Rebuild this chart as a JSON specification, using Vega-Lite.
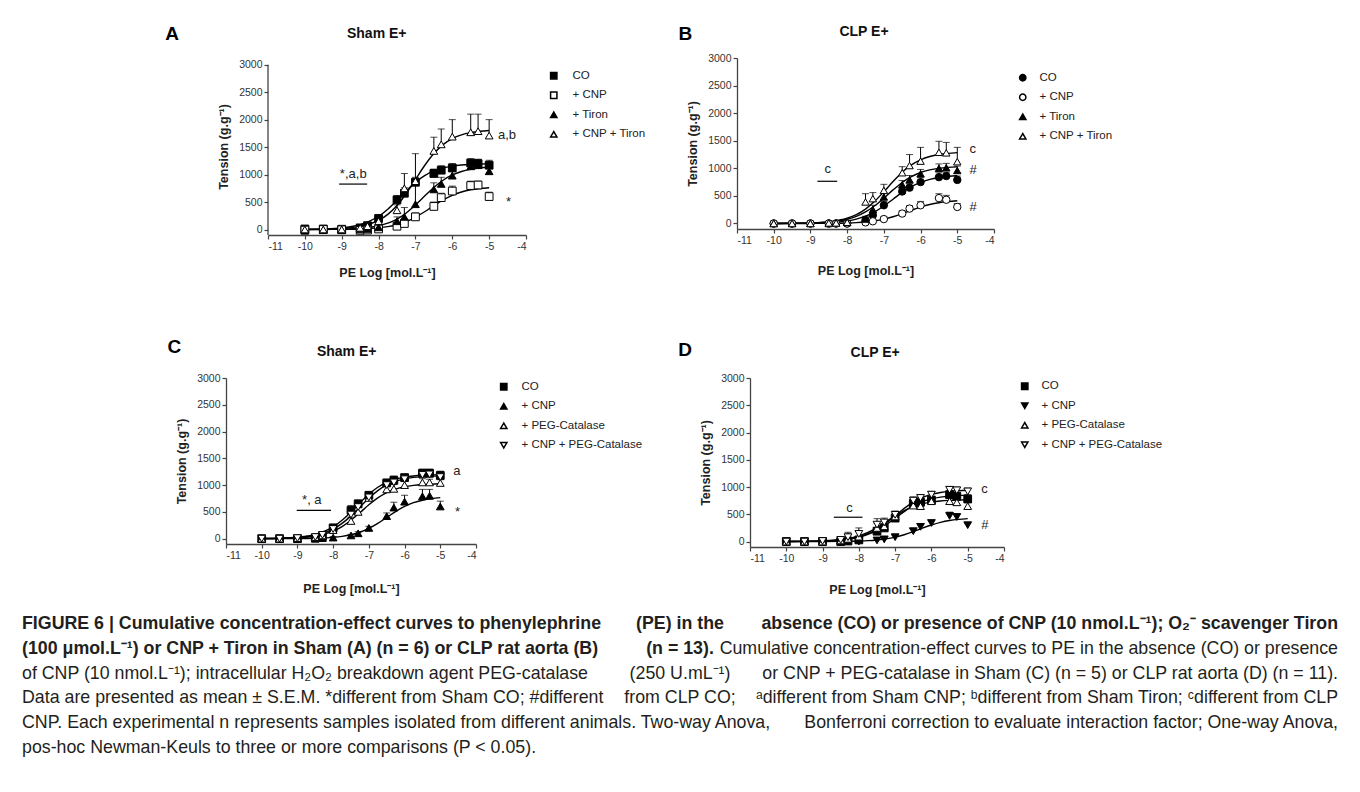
{
"$schema": "https://vega.github.io/schema/vega-lite/v6.json",
"background": "white",
"padding": {"left": 22, "top": 24, "right": 0, "bottom": 0},
"spacing": 19,
"datasets": {
"pts": [
{"p":"A","s":"CO","x":-10,"y":10,"hi":60},{"p":"A","s":"CO","x":-9.5,"y":10,"hi":40},{"p":"A","s":"CO","x":-9,"y":5,"hi":30},{"p":"A","s":"CO","x":-8.5,"y":30,"hi":60},{"p":"A","s":"CO","x":-8.3,"y":70,"hi":110},{"p":"A","s":"CO","x":-8,"y":200,"hi":270},{"p":"A","s":"CO","x":-7.5,"y":540,"hi":620},{"p":"A","s":"CO","x":-7.3,"y":660,"hi":760},{"p":"A","s":"CO","x":-7,"y":860,"hi":950},{"p":"A","s":"CO","x":-6.5,"y":1020,"hi":1100},{"p":"A","s":"CO","x":-6.3,"y":1080,"hi":1160},{"p":"A","s":"CO","x":-6,"y":1120,"hi":1200},{"p":"A","s":"CO","x":-5.5,"y":1210,"hi":1290},{"p":"A","s":"CO","x":-5.3,"y":1200,"hi":1280},{"p":"A","s":"CO","x":-5,"y":1170,"hi":1260},
{"p":"A","s":"+ CNP","x":-10,"y":-10,"hi":20},{"p":"A","s":"+ CNP","x":-9.5,"y":0,"hi":20},{"p":"A","s":"+ CNP","x":-9,"y":-5,"hi":15},{"p":"A","s":"+ CNP","x":-8.5,"y":-15,"hi":10},{"p":"A","s":"+ CNP","x":-8.3,"y":-10,"hi":15},{"p":"A","s":"+ CNP","x":-8,"y":10,"hi":40},{"p":"A","s":"+ CNP","x":-7.5,"y":60,"hi":100},{"p":"A","s":"+ CNP","x":-7.3,"y":110,"hi":160},{"p":"A","s":"+ CNP","x":-7,"y":230,"hi":300},{"p":"A","s":"+ CNP","x":-6.5,"y":420,"hi":500},{"p":"A","s":"+ CNP","x":-6.3,"y":580,"hi":660},{"p":"A","s":"+ CNP","x":-6,"y":700,"hi":790},{"p":"A","s":"+ CNP","x":-5.5,"y":800,"hi":880},{"p":"A","s":"+ CNP","x":-5.3,"y":810,"hi":880},{"p":"A","s":"+ CNP","x":-5,"y":600,"hi":680},
{"p":"A","s":"+ Tiron","x":-10,"y":-20,"hi":10},{"p":"A","s":"+ Tiron","x":-9.5,"y":-10,"hi":15},{"p":"A","s":"+ Tiron","x":-9,"y":-10,"hi":10},{"p":"A","s":"+ Tiron","x":-8.5,"y":0,"hi":30},{"p":"A","s":"+ Tiron","x":-8.3,"y":10,"hi":40},{"p":"A","s":"+ Tiron","x":-8,"y":40,"hi":80},{"p":"A","s":"+ Tiron","x":-7.5,"y":150,"hi":230},{"p":"A","s":"+ Tiron","x":-7.3,"y":230,"hi":400},{"p":"A","s":"+ Tiron","x":-7,"y":460,"hi":800},{"p":"A","s":"+ Tiron","x":-6.5,"y":730,"hi":850},{"p":"A","s":"+ Tiron","x":-6.3,"y":830,"hi":950},{"p":"A","s":"+ Tiron","x":-6,"y":980,"hi":1060},{"p":"A","s":"+ Tiron","x":-5.5,"y":1150,"hi":1230},{"p":"A","s":"+ Tiron","x":-5.3,"y":1170,"hi":1250},{"p":"A","s":"+ Tiron","x":-5,"y":1060,"hi":1150},
{"p":"A","s":"+ CNP + Tiron","x":-10,"y":0,"hi":40},{"p":"A","s":"+ CNP + Tiron","x":-9.5,"y":0,"hi":30},{"p":"A","s":"+ CNP + Tiron","x":-9,"y":0,"hi":30},{"p":"A","s":"+ CNP + Tiron","x":-8.5,"y":30,"hi":70},{"p":"A","s":"+ CNP + Tiron","x":-8.3,"y":60,"hi":100},{"p":"A","s":"+ CNP + Tiron","x":-8,"y":150,"hi":220},{"p":"A","s":"+ CNP + Tiron","x":-7.5,"y":350,"hi":450},{"p":"A","s":"+ CNP + Tiron","x":-7.3,"y":750,"hi":1020},{"p":"A","s":"+ CNP + Tiron","x":-7,"y":880,"hi":1380},{"p":"A","s":"+ CNP + Tiron","x":-6.5,"y":1430,"hi":1680},{"p":"A","s":"+ CNP + Tiron","x":-6.3,"y":1550,"hi":1830},{"p":"A","s":"+ CNP + Tiron","x":-6,"y":1690,"hi":2000},{"p":"A","s":"+ CNP + Tiron","x":-5.5,"y":1770,"hi":2100},{"p":"A","s":"+ CNP + Tiron","x":-5.3,"y":1790,"hi":2100},{"p":"A","s":"+ CNP + Tiron","x":-5,"y":1710,"hi":2000},
{"p":"B","s":"CO","x":-10,"y":0,"hi":30},{"p":"B","s":"CO","x":-9.5,"y":0,"hi":20},{"p":"B","s":"CO","x":-9,"y":0,"hi":20},{"p":"B","s":"CO","x":-8.5,"y":0,"hi":20},{"p":"B","s":"CO","x":-8.3,"y":0,"hi":20},{"p":"B","s":"CO","x":-8,"y":0,"hi":30},{"p":"B","s":"CO","x":-7.5,"y":60,"hi":100},{"p":"B","s":"CO","x":-7.3,"y":150,"hi":200},{"p":"B","s":"CO","x":-7,"y":330,"hi":400},{"p":"B","s":"CO","x":-6.5,"y":580,"hi":650},{"p":"B","s":"CO","x":-6.3,"y":650,"hi":720},{"p":"B","s":"CO","x":-6,"y":750,"hi":830},{"p":"B","s":"CO","x":-5.5,"y":840,"hi":920},{"p":"B","s":"CO","x":-5.3,"y":860,"hi":930},{"p":"B","s":"CO","x":-5,"y":790,"hi":860},
{"p":"B","s":"+ CNP","x":-10,"y":0,"hi":20},{"p":"B","s":"+ CNP","x":-9.5,"y":0,"hi":20},{"p":"B","s":"+ CNP","x":-9,"y":0,"hi":20},{"p":"B","s":"+ CNP","x":-8.5,"y":0,"hi":20},{"p":"B","s":"+ CNP","x":-8.3,"y":0,"hi":20},{"p":"B","s":"+ CNP","x":-8,"y":0,"hi":20},{"p":"B","s":"+ CNP","x":-7.5,"y":20,"hi":50},{"p":"B","s":"+ CNP","x":-7.3,"y":40,"hi":70},{"p":"B","s":"+ CNP","x":-7,"y":80,"hi":120},{"p":"B","s":"+ CNP","x":-6.5,"y":180,"hi":230},{"p":"B","s":"+ CNP","x":-6.3,"y":270,"hi":320},{"p":"B","s":"+ CNP","x":-6,"y":330,"hi":400},{"p":"B","s":"+ CNP","x":-5.5,"y":460,"hi":540},{"p":"B","s":"+ CNP","x":-5.3,"y":430,"hi":510},{"p":"B","s":"+ CNP","x":-5,"y":300,"hi":360},
{"p":"B","s":"+ Tiron","x":-10,"y":0,"hi":20},{"p":"B","s":"+ Tiron","x":-9.5,"y":0,"hi":20},{"p":"B","s":"+ Tiron","x":-9,"y":0,"hi":20},{"p":"B","s":"+ Tiron","x":-8.5,"y":0,"hi":20},{"p":"B","s":"+ Tiron","x":-8.3,"y":10,"hi":30},{"p":"B","s":"+ Tiron","x":-8,"y":20,"hi":40},{"p":"B","s":"+ Tiron","x":-7.5,"y":80,"hi":130},{"p":"B","s":"+ Tiron","x":-7.3,"y":250,"hi":330},{"p":"B","s":"+ Tiron","x":-7,"y":480,"hi":560},{"p":"B","s":"+ Tiron","x":-6.5,"y":700,"hi":780},{"p":"B","s":"+ Tiron","x":-6.3,"y":790,"hi":870},{"p":"B","s":"+ Tiron","x":-6,"y":900,"hi":980},{"p":"B","s":"+ Tiron","x":-5.5,"y":1000,"hi":1080},{"p":"B","s":"+ Tiron","x":-5.3,"y":1010,"hi":1090},{"p":"B","s":"+ Tiron","x":-5,"y":960,"hi":1040},
{"p":"B","s":"+ CNP + Tiron","x":-10,"y":0,"hi":20},{"p":"B","s":"+ CNP + Tiron","x":-9.5,"y":0,"hi":20},{"p":"B","s":"+ CNP + Tiron","x":-9,"y":0,"hi":20},{"p":"B","s":"+ CNP + Tiron","x":-8.5,"y":10,"hi":30},{"p":"B","s":"+ CNP + Tiron","x":-8.3,"y":10,"hi":30},{"p":"B","s":"+ CNP + Tiron","x":-8,"y":20,"hi":50},{"p":"B","s":"+ CNP + Tiron","x":-7.5,"y":390,"hi":540},{"p":"B","s":"+ CNP + Tiron","x":-7.3,"y":450,"hi":560},{"p":"B","s":"+ CNP + Tiron","x":-7,"y":600,"hi":710},{"p":"B","s":"+ CNP + Tiron","x":-6.5,"y":920,"hi":1030},{"p":"B","s":"+ CNP + Tiron","x":-6.3,"y":1050,"hi":1250},{"p":"B","s":"+ CNP + Tiron","x":-6,"y":1130,"hi":1380},{"p":"B","s":"+ CNP + Tiron","x":-5.5,"y":1290,"hi":1490},{"p":"B","s":"+ CNP + Tiron","x":-5.3,"y":1280,"hi":1470},{"p":"B","s":"+ CNP + Tiron","x":-5,"y":1120,"hi":1380},
{"p":"C","s":"CO","x":-10,"y":0,"hi":30},{"p":"C","s":"CO","x":-9.5,"y":0,"hi":30},{"p":"C","s":"CO","x":-9,"y":0,"hi":40},{"p":"C","s":"CO","x":-8.5,"y":10,"hi":50},{"p":"C","s":"CO","x":-8.3,"y":40,"hi":80},{"p":"C","s":"CO","x":-8,"y":200,"hi":270},{"p":"C","s":"CO","x":-7.5,"y":530,"hi":620},{"p":"C","s":"CO","x":-7.3,"y":650,"hi":720},{"p":"C","s":"CO","x":-7,"y":810,"hi":880},{"p":"C","s":"CO","x":-6.5,"y":1040,"hi":1110},{"p":"C","s":"CO","x":-6.3,"y":1090,"hi":1170},{"p":"C","s":"CO","x":-6,"y":1140,"hi":1200},{"p":"C","s":"CO","x":-5.5,"y":1220,"hi":1300},{"p":"C","s":"CO","x":-5.3,"y":1220,"hi":1300},{"p":"C","s":"CO","x":-5,"y":1180,"hi":1260},
{"p":"C","s":"+ CNP","x":-10,"y":0,"hi":10},{"p":"C","s":"+ CNP","x":-9.5,"y":0,"hi":10},{"p":"C","s":"+ CNP","x":-9,"y":0,"hi":10},{"p":"C","s":"+ CNP","x":-8.5,"y":0,"hi":10},{"p":"C","s":"+ CNP","x":-8.3,"y":10,"hi":20},{"p":"C","s":"+ CNP","x":-8,"y":20,"hi":40},{"p":"C","s":"+ CNP","x":-7.5,"y":60,"hi":80},{"p":"C","s":"+ CNP","x":-7.3,"y":100,"hi":130},{"p":"C","s":"+ CNP","x":-7,"y":200,"hi":230},{"p":"C","s":"+ CNP","x":-6.5,"y":420,"hi":480},{"p":"C","s":"+ CNP","x":-6.3,"y":580,"hi":680},{"p":"C","s":"+ CNP","x":-6,"y":690,"hi":810},{"p":"C","s":"+ CNP","x":-5.5,"y":790,"hi":920},{"p":"C","s":"+ CNP","x":-5.3,"y":800,"hi":920},{"p":"C","s":"+ CNP","x":-5,"y":600,"hi":700},
{"p":"C","s":"+ PEG-Catalase","x":-10,"y":0,"hi":20},{"p":"C","s":"+ PEG-Catalase","x":-9.5,"y":0,"hi":20},{"p":"C","s":"+ PEG-Catalase","x":-9,"y":10,"hi":40},{"p":"C","s":"+ PEG-Catalase","x":-8.5,"y":30,"hi":60},{"p":"C","s":"+ PEG-Catalase","x":-8.3,"y":60,"hi":100},{"p":"C","s":"+ PEG-Catalase","x":-8,"y":160,"hi":220},{"p":"C","s":"+ PEG-Catalase","x":-7.5,"y":330,"hi":400},{"p":"C","s":"+ PEG-Catalase","x":-7.3,"y":500,"hi":580},{"p":"C","s":"+ PEG-Catalase","x":-7,"y":760,"hi":830},{"p":"C","s":"+ PEG-Catalase","x":-6.5,"y":920,"hi":1000},{"p":"C","s":"+ PEG-Catalase","x":-6.3,"y":930,"hi":1010},{"p":"C","s":"+ PEG-Catalase","x":-6,"y":1000,"hi":1080},{"p":"C","s":"+ PEG-Catalase","x":-5.5,"y":1050,"hi":1120},{"p":"C","s":"+ PEG-Catalase","x":-5.3,"y":1050,"hi":1110},{"p":"C","s":"+ PEG-Catalase","x":-5,"y":1040,"hi":1100},
{"p":"C","s":"+ CNP + PEG-Catalase","x":-10,"y":0,"hi":20},{"p":"C","s":"+ CNP + PEG-Catalase","x":-9.5,"y":0,"hi":20},{"p":"C","s":"+ CNP + PEG-Catalase","x":-9,"y":10,"hi":60},{"p":"C","s":"+ CNP + PEG-Catalase","x":-8.5,"y":30,"hi":70},{"p":"C","s":"+ CNP + PEG-Catalase","x":-8.3,"y":70,"hi":110},{"p":"C","s":"+ CNP + PEG-Catalase","x":-8,"y":180,"hi":250},{"p":"C","s":"+ CNP + PEG-Catalase","x":-7.5,"y":450,"hi":520},{"p":"C","s":"+ CNP + PEG-Catalase","x":-7.3,"y":590,"hi":660},{"p":"C","s":"+ CNP + PEG-Catalase","x":-7,"y":770,"hi":850},{"p":"C","s":"+ CNP + PEG-Catalase","x":-6.5,"y":1000,"hi":1080},{"p":"C","s":"+ CNP + PEG-Catalase","x":-6.3,"y":1050,"hi":1130},{"p":"C","s":"+ CNP + PEG-Catalase","x":-6,"y":1110,"hi":1180},{"p":"C","s":"+ CNP + PEG-Catalase","x":-5.5,"y":1190,"hi":1270},{"p":"C","s":"+ CNP + PEG-Catalase","x":-5.3,"y":1200,"hi":1280},{"p":"C","s":"+ CNP + PEG-Catalase","x":-5,"y":1150,"hi":1230},
{"p":"D","s":"CO","x":-10,"y":0,"hi":30},{"p":"D","s":"CO","x":-9.5,"y":0,"hi":20},{"p":"D","s":"CO","x":-9,"y":0,"hi":20},{"p":"D","s":"CO","x":-8.5,"y":0,"hi":30},{"p":"D","s":"CO","x":-8.3,"y":10,"hi":40},{"p":"D","s":"CO","x":-8,"y":30,"hi":70},{"p":"D","s":"CO","x":-7.5,"y":190,"hi":260},{"p":"D","s":"CO","x":-7.3,"y":250,"hi":330},{"p":"D","s":"CO","x":-7,"y":430,"hi":500},{"p":"D","s":"CO","x":-6.5,"y":700,"hi":780},{"p":"D","s":"CO","x":-6.3,"y":720,"hi":800},{"p":"D","s":"CO","x":-6,"y":760,"hi":830},{"p":"D","s":"CO","x":-5.5,"y":860,"hi":940},{"p":"D","s":"CO","x":-5.3,"y":830,"hi":900},{"p":"D","s":"CO","x":-5,"y":780,"hi":860},
{"p":"D","s":"+ CNP","x":-10,"y":0,"hi":15},{"p":"D","s":"+ CNP","x":-9.5,"y":0,"hi":15},{"p":"D","s":"+ CNP","x":-9,"y":0,"hi":15},{"p":"D","s":"+ CNP","x":-8.5,"y":0,"hi":15},{"p":"D","s":"+ CNP","x":-8.3,"y":0,"hi":15},{"p":"D","s":"+ CNP","x":-8,"y":0,"hi":15},{"p":"D","s":"+ CNP","x":-7.5,"y":20,"hi":40},{"p":"D","s":"+ CNP","x":-7.3,"y":40,"hi":60},{"p":"D","s":"+ CNP","x":-7,"y":80,"hi":110},{"p":"D","s":"+ CNP","x":-6.5,"y":190,"hi":230},{"p":"D","s":"+ CNP","x":-6.3,"y":270,"hi":320},{"p":"D","s":"+ CNP","x":-6,"y":340,"hi":390},{"p":"D","s":"+ CNP","x":-5.5,"y":470,"hi":540},{"p":"D","s":"+ CNP","x":-5.3,"y":450,"hi":510},{"p":"D","s":"+ CNP","x":-5,"y":300,"hi":340},
{"p":"D","s":"+ PEG-Catalase","x":-10,"y":0,"hi":30},{"p":"D","s":"+ PEG-Catalase","x":-9.5,"y":0,"hi":20},{"p":"D","s":"+ PEG-Catalase","x":-9,"y":0,"hi":20},{"p":"D","s":"+ PEG-Catalase","x":-8.5,"y":20,"hi":60},{"p":"D","s":"+ PEG-Catalase","x":-8.3,"y":50,"hi":140},{"p":"D","s":"+ PEG-Catalase","x":-8,"y":90,"hi":200},{"p":"D","s":"+ PEG-Catalase","x":-7.5,"y":250,"hi":330},{"p":"D","s":"+ PEG-Catalase","x":-7.3,"y":280,"hi":380},{"p":"D","s":"+ PEG-Catalase","x":-7,"y":460,"hi":520},{"p":"D","s":"+ PEG-Catalase","x":-6.5,"y":660,"hi":740},{"p":"D","s":"+ PEG-Catalase","x":-6.3,"y":650,"hi":720},{"p":"D","s":"+ PEG-Catalase","x":-6,"y":740,"hi":800},{"p":"D","s":"+ PEG-Catalase","x":-5.5,"y":740,"hi":820},{"p":"D","s":"+ PEG-Catalase","x":-5.3,"y":720,"hi":790},{"p":"D","s":"+ PEG-Catalase","x":-5,"y":650,"hi":720},
{"p":"D","s":"+ CNP + PEG-Catalase","x":-10,"y":0,"hi":30},{"p":"D","s":"+ CNP + PEG-Catalase","x":-9.5,"y":0,"hi":20},{"p":"D","s":"+ CNP + PEG-Catalase","x":-9,"y":10,"hi":30},{"p":"D","s":"+ CNP + PEG-Catalase","x":-8.5,"y":30,"hi":80},{"p":"D","s":"+ CNP + PEG-Catalase","x":-8.3,"y":80,"hi":170},{"p":"D","s":"+ CNP + PEG-Catalase","x":-8,"y":140,"hi":250},{"p":"D","s":"+ CNP + PEG-Catalase","x":-7.5,"y":310,"hi":420},{"p":"D","s":"+ CNP + PEG-Catalase","x":-7.3,"y":350,"hi":430},{"p":"D","s":"+ CNP + PEG-Catalase","x":-7,"y":490,"hi":560},{"p":"D","s":"+ CNP + PEG-Catalase","x":-6.5,"y":750,"hi":820},{"p":"D","s":"+ CNP + PEG-Catalase","x":-6.3,"y":800,"hi":860},{"p":"D","s":"+ CNP + PEG-Catalase","x":-6,"y":860,"hi":920},{"p":"D","s":"+ CNP + PEG-Catalase","x":-5.5,"y":950,"hi":1010},{"p":"D","s":"+ CNP + PEG-Catalase","x":-5.3,"y":940,"hi":1000},{"p":"D","s":"+ CNP + PEG-Catalase","x":-5,"y":920,"hi":980}
],
"crv": [
{"p":"A","s":"CO","x":-10,"y":3},{"p":"A","s":"CO","x":-9.5,"y":9},{"p":"A","s":"CO","x":-9,"y":29},{"p":"A","s":"CO","x":-8.5,"y":88},{"p":"A","s":"CO","x":-8,"y":241},{"p":"A","s":"CO","x":-7.75,"y":370},{"p":"A","s":"CO","x":-7.5,"y":531},{"p":"A","s":"CO","x":-7.25,"y":703},{"p":"A","s":"CO","x":-7,"y":858},{"p":"A","s":"CO","x":-6.75,"y":980},{"p":"A","s":"CO","x":-6.5,"y":1066},{"p":"A","s":"CO","x":-6.25,"y":1121},{"p":"A","s":"CO","x":-6,"y":1154},{"p":"A","s":"CO","x":-5.75,"y":1174},{"p":"A","s":"CO","x":-5.5,"y":1185},{"p":"A","s":"CO","x":-5.25,"y":1192},{"p":"A","s":"CO","x":-5,"y":1195},
{"p":"A","s":"+ CNP","x":-10,"y":0},{"p":"A","s":"+ CNP","x":-9.5,"y":1},{"p":"A","s":"+ CNP","x":-9,"y":3},{"p":"A","s":"+ CNP","x":-8.5,"y":10},{"p":"A","s":"+ CNP","x":-8,"y":30},{"p":"A","s":"+ CNP","x":-7.75,"y":52},{"p":"A","s":"+ CNP","x":-7.5,"y":87},{"p":"A","s":"+ CNP","x":-7.25,"y":143},{"p":"A","s":"+ CNP","x":-7,"y":222},{"p":"A","s":"+ CNP","x":-6.75,"y":323},{"p":"A","s":"+ CNP","x":-6.5,"y":435},{"p":"A","s":"+ CNP","x":-6.25,"y":539},{"p":"A","s":"+ CNP","x":-6,"y":623},{"p":"A","s":"+ CNP","x":-5.75,"y":683},{"p":"A","s":"+ CNP","x":-5.5,"y":723},{"p":"A","s":"+ CNP","x":-5.25,"y":747},{"p":"A","s":"+ CNP","x":-5,"y":761},
{"p":"A","s":"+ Tiron","x":-10,"y":1},{"p":"A","s":"+ Tiron","x":-9.5,"y":2},{"p":"A","s":"+ Tiron","x":-9,"y":7},{"p":"A","s":"+ Tiron","x":-8.5,"y":23},{"p":"A","s":"+ Tiron","x":-8,"y":68},{"p":"A","s":"+ Tiron","x":-7.75,"y":116},{"p":"A","s":"+ Tiron","x":-7.5,"y":191},{"p":"A","s":"+ Tiron","x":-7.25,"y":301},{"p":"A","s":"+ Tiron","x":-7,"y":445},{"p":"A","s":"+ Tiron","x":-6.75,"y":608},{"p":"A","s":"+ Tiron","x":-6.5,"y":766},{"p":"A","s":"+ Tiron","x":-6.25,"y":897},{"p":"A","s":"+ Tiron","x":-6,"y":993},{"p":"A","s":"+ Tiron","x":-5.75,"y":1056},{"p":"A","s":"+ Tiron","x":-5.5,"y":1095},{"p":"A","s":"+ Tiron","x":-5.25,"y":1119},{"p":"A","s":"+ Tiron","x":-5,"y":1132},
{"p":"A","s":"+ CNP + Tiron","x":-10,"y":2},{"p":"A","s":"+ CNP + Tiron","x":-9.5,"y":6},{"p":"A","s":"+ CNP + Tiron","x":-9,"y":18},{"p":"A","s":"+ CNP + Tiron","x":-8.5,"y":56},{"p":"A","s":"+ CNP + Tiron","x":-8,"y":165},{"p":"A","s":"+ CNP + Tiron","x":-7.75,"y":275},{"p":"A","s":"+ CNP + Tiron","x":-7.5,"y":437},{"p":"A","s":"+ CNP + Tiron","x":-7.25,"y":655},{"p":"A","s":"+ CNP + Tiron","x":-7,"y":910},{"p":"A","s":"+ CNP + Tiron","x":-6.75,"y":1165},{"p":"A","s":"+ CNP + Tiron","x":-6.5,"y":1383},{"p":"A","s":"+ CNP + Tiron","x":-6.25,"y":1545},{"p":"A","s":"+ CNP + Tiron","x":-6,"y":1655},{"p":"A","s":"+ CNP + Tiron","x":-5.75,"y":1723},{"p":"A","s":"+ CNP + Tiron","x":-5.5,"y":1764},{"p":"A","s":"+ CNP + Tiron","x":-5.25,"y":1788},{"p":"A","s":"+ CNP + Tiron","x":-5,"y":1802},
{"p":"B","s":"CO","x":-10,"y":0},{"p":"B","s":"CO","x":-9.5,"y":2},{"p":"B","s":"CO","x":-9,"y":5},{"p":"B","s":"CO","x":-8.5,"y":15},{"p":"B","s":"CO","x":-8,"y":47},{"p":"B","s":"CO","x":-7.75,"y":80},{"p":"B","s":"CO","x":-7.5,"y":133},{"p":"B","s":"CO","x":-7.25,"y":211},{"p":"B","s":"CO","x":-7,"y":317},{"p":"B","s":"CO","x":-6.75,"y":440},{"p":"B","s":"CO","x":-6.5,"y":563},{"p":"B","s":"CO","x":-6.25,"y":669},{"p":"B","s":"CO","x":-6,"y":747},{"p":"B","s":"CO","x":-5.75,"y":800},{"p":"B","s":"CO","x":-5.5,"y":833},{"p":"B","s":"CO","x":-5.25,"y":853},{"p":"B","s":"CO","x":-5,"y":865},
{"p":"B","s":"+ CNP","x":-10,"y":0},{"p":"B","s":"+ CNP","x":-9.5,"y":0},{"p":"B","s":"+ CNP","x":-9,"y":1},{"p":"B","s":"+ CNP","x":-8.5,"y":3},{"p":"B","s":"+ CNP","x":-8,"y":9},{"p":"B","s":"+ CNP","x":-7.75,"y":16},{"p":"B","s":"+ CNP","x":-7.5,"y":28},{"p":"B","s":"+ CNP","x":-7.25,"y":48},{"p":"B","s":"+ CNP","x":-7,"y":79},{"p":"B","s":"+ CNP","x":-6.75,"y":122},{"p":"B","s":"+ CNP","x":-6.5,"y":178},{"p":"B","s":"+ CNP","x":-6.25,"y":240},{"p":"B","s":"+ CNP","x":-6,"y":297},{"p":"B","s":"+ CNP","x":-5.75,"y":344},{"p":"B","s":"+ CNP","x":-5.5,"y":377},{"p":"B","s":"+ CNP","x":-5.25,"y":398},{"p":"B","s":"+ CNP","x":-5,"y":411},
{"p":"B","s":"+ Tiron","x":-10,"y":0},{"p":"B","s":"+ Tiron","x":-9.5,"y":3},{"p":"B","s":"+ Tiron","x":-9,"y":8},{"p":"B","s":"+ Tiron","x":-8.5,"y":25},{"p":"B","s":"+ Tiron","x":-8,"y":77},{"p":"B","s":"+ Tiron","x":-7.75,"y":129},{"p":"B","s":"+ Tiron","x":-7.5,"y":209},{"p":"B","s":"+ Tiron","x":-7.25,"y":321},{"p":"B","s":"+ Tiron","x":-7,"y":460},{"p":"B","s":"+ Tiron","x":-6.75,"y":609},{"p":"B","s":"+ Tiron","x":-6.5,"y":744},{"p":"B","s":"+ Tiron","x":-6.25,"y":850},{"p":"B","s":"+ Tiron","x":-6,"y":924},{"p":"B","s":"+ Tiron","x":-5.75,"y":971},{"p":"B","s":"+ Tiron","x":-5.5,"y":1000},{"p":"B","s":"+ Tiron","x":-5.25,"y":1017},{"p":"B","s":"+ Tiron","x":-5,"y":1027},
{"p":"B","s":"+ CNP + Tiron","x":-10,"y":0},{"p":"B","s":"+ CNP + Tiron","x":-9.5,"y":3},{"p":"B","s":"+ CNP + Tiron","x":-9,"y":10},{"p":"B","s":"+ CNP + Tiron","x":-8.5,"y":32},{"p":"B","s":"+ CNP + Tiron","x":-8,"y":96},{"p":"B","s":"+ CNP + Tiron","x":-7.75,"y":161},{"p":"B","s":"+ CNP + Tiron","x":-7.5,"y":261},{"p":"B","s":"+ CNP + Tiron","x":-7.25,"y":402},{"p":"B","s":"+ CNP + Tiron","x":-7,"y":576},{"p":"B","s":"+ CNP + Tiron","x":-6.75,"y":761},{"p":"B","s":"+ CNP + Tiron","x":-6.5,"y":930},{"p":"B","s":"+ CNP + Tiron","x":-6.25,"y":1062},{"p":"B","s":"+ CNP + Tiron","x":-6,"y":1154},{"p":"B","s":"+ CNP + Tiron","x":-5.75,"y":1214},{"p":"B","s":"+ CNP + Tiron","x":-5.5,"y":1250},{"p":"B","s":"+ CNP + Tiron","x":-5.25,"y":1271},{"p":"B","s":"+ CNP + Tiron","x":-5,"y":1284},
{"p":"C","s":"CO","x":-10,"y":3},{"p":"C","s":"CO","x":-9.5,"y":8},{"p":"C","s":"CO","x":-9,"y":26},{"p":"C","s":"CO","x":-8.5,"y":79},{"p":"C","s":"CO","x":-8,"y":219},{"p":"C","s":"CO","x":-7.75,"y":342},{"p":"C","s":"CO","x":-7.5,"y":497},{"p":"C","s":"CO","x":-7.25,"y":669},{"p":"C","s":"CO","x":-7,"y":829},{"p":"C","s":"CO","x":-6.75,"y":959},{"p":"C","s":"CO","x":-6.5,"y":1051},{"p":"C","s":"CO","x":-6.25,"y":1112},{"p":"C","s":"CO","x":-6,"y":1149},{"p":"C","s":"CO","x":-5.75,"y":1171},{"p":"C","s":"CO","x":-5.5,"y":1183},{"p":"C","s":"CO","x":-5.25,"y":1190},{"p":"C","s":"CO","x":-5,"y":1195},
{"p":"C","s":"+ CNP","x":-10,"y":0},{"p":"C","s":"+ CNP","x":-9.5,"y":1},{"p":"C","s":"+ CNP","x":-9,"y":2},{"p":"C","s":"+ CNP","x":-8.5,"y":8},{"p":"C","s":"+ CNP","x":-8,"y":24},{"p":"C","s":"+ CNP","x":-7.75,"y":42},{"p":"C","s":"+ CNP","x":-7.5,"y":72},{"p":"C","s":"+ CNP","x":-7.25,"y":119},{"p":"C","s":"+ CNP","x":-7,"y":190},{"p":"C","s":"+ CNP","x":-6.75,"y":284},{"p":"C","s":"+ CNP","x":-6.5,"y":395},{"p":"C","s":"+ CNP","x":-6.25,"y":506},{"p":"C","s":"+ CNP","x":-6,"y":601},{"p":"C","s":"+ CNP","x":-5.75,"y":671},{"p":"C","s":"+ CNP","x":-5.5,"y":718},{"p":"C","s":"+ CNP","x":-5.25,"y":748},{"p":"C","s":"+ CNP","x":-5,"y":766},
{"p":"C","s":"+ PEG-Catalase","x":-10,"y":2},{"p":"C","s":"+ PEG-Catalase","x":-9.5,"y":5},{"p":"C","s":"+ PEG-Catalase","x":-9,"y":16},{"p":"C","s":"+ PEG-Catalase","x":-8.5,"y":49},{"p":"C","s":"+ PEG-Catalase","x":-8,"y":141},{"p":"C","s":"+ PEG-Catalase","x":-7.75,"y":226},{"p":"C","s":"+ PEG-Catalase","x":-7.5,"y":344},{"p":"C","s":"+ PEG-Catalase","x":-7.25,"y":485},{"p":"C","s":"+ PEG-Catalase","x":-7,"y":632},{"p":"C","s":"+ PEG-Catalase","x":-6.75,"y":760},{"p":"C","s":"+ PEG-Catalase","x":-6.5,"y":858},{"p":"C","s":"+ PEG-Catalase","x":-6.25,"y":926},{"p":"C","s":"+ PEG-Catalase","x":-6,"y":969},{"p":"C","s":"+ PEG-Catalase","x":-5.75,"y":995},{"p":"C","s":"+ PEG-Catalase","x":-5.5,"y":1010},{"p":"C","s":"+ PEG-Catalase","x":-5.25,"y":1019},{"p":"C","s":"+ PEG-Catalase","x":-5,"y":1024},
{"p":"C","s":"+ CNP + PEG-Catalase","x":-10,"y":2},{"p":"C","s":"+ CNP + PEG-Catalase","x":-9.5,"y":7},{"p":"C","s":"+ CNP + PEG-Catalase","x":-9,"y":21},{"p":"C","s":"+ CNP + PEG-Catalase","x":-8.5,"y":63},{"p":"C","s":"+ CNP + PEG-Catalase","x":-8,"y":178},{"p":"C","s":"+ CNP + PEG-Catalase","x":-7.75,"y":284},{"p":"C","s":"+ CNP + PEG-Catalase","x":-7.5,"y":425},{"p":"C","s":"+ CNP + PEG-Catalase","x":-7.25,"y":590},{"p":"C","s":"+ CNP + PEG-Catalase","x":-7,"y":755},{"p":"C","s":"+ CNP + PEG-Catalase","x":-6.75,"y":897},{"p":"C","s":"+ CNP + PEG-Catalase","x":-6.5,"y":1002},{"p":"C","s":"+ CNP + PEG-Catalase","x":-6.25,"y":1073},{"p":"C","s":"+ CNP + PEG-Catalase","x":-6,"y":1117},{"p":"C","s":"+ CNP + PEG-Catalase","x":-5.75,"y":1144},{"p":"C","s":"+ CNP + PEG-Catalase","x":-5.5,"y":1159},{"p":"C","s":"+ CNP + PEG-Catalase","x":-5.25,"y":1168},{"p":"C","s":"+ CNP + PEG-Catalase","x":-5,"y":1173},
{"p":"D","s":"CO","x":-10,"y":1},{"p":"D","s":"CO","x":-9.5,"y":3},{"p":"D","s":"CO","x":-9,"y":9},{"p":"D","s":"CO","x":-8.5,"y":26},{"p":"D","s":"CO","x":-8,"y":78},{"p":"D","s":"CO","x":-7.75,"y":130},{"p":"D","s":"CO","x":-7.5,"y":207},{"p":"D","s":"CO","x":-7.25,"y":310},{"p":"D","s":"CO","x":-7,"y":430},{"p":"D","s":"CO","x":-6.75,"y":550},{"p":"D","s":"CO","x":-6.5,"y":654},{"p":"D","s":"CO","x":-6.25,"y":730},{"p":"D","s":"CO","x":-6,"y":782},{"p":"D","s":"CO","x":-5.75,"y":814},{"p":"D","s":"CO","x":-5.5,"y":834},{"p":"D","s":"CO","x":-5.25,"y":845},{"p":"D","s":"CO","x":-5,"y":851},
{"p":"D","s":"+ CNP","x":-10,"y":0},{"p":"D","s":"+ CNP","x":-9.5,"y":0},{"p":"D","s":"+ CNP","x":-9,"y":1},{"p":"D","s":"+ CNP","x":-8.5,"y":3},{"p":"D","s":"+ CNP","x":-8,"y":9},{"p":"D","s":"+ CNP","x":-7.75,"y":16},{"p":"D","s":"+ CNP","x":-7.5,"y":29},{"p":"D","s":"+ CNP","x":-7.25,"y":49},{"p":"D","s":"+ CNP","x":-7,"y":81},{"p":"D","s":"+ CNP","x":-6.75,"y":125},{"p":"D","s":"+ CNP","x":-6.5,"y":182},{"p":"D","s":"+ CNP","x":-6.25,"y":246},{"p":"D","s":"+ CNP","x":-6,"y":304},{"p":"D","s":"+ CNP","x":-5.75,"y":352},{"p":"D","s":"+ CNP","x":-5.5,"y":386},{"p":"D","s":"+ CNP","x":-5.25,"y":407},{"p":"D","s":"+ CNP","x":-5,"y":421},
{"p":"D","s":"+ PEG-Catalase","x":-10,"y":1},{"p":"D","s":"+ PEG-Catalase","x":-9.5,"y":4},{"p":"D","s":"+ PEG-Catalase","x":-9,"y":12},{"p":"D","s":"+ PEG-Catalase","x":-8.5,"y":37},{"p":"D","s":"+ PEG-Catalase","x":-8,"y":105},{"p":"D","s":"+ PEG-Catalase","x":-7.75,"y":169},{"p":"D","s":"+ PEG-Catalase","x":-7.5,"y":257},{"p":"D","s":"+ PEG-Catalase","x":-7.25,"y":363},{"p":"D","s":"+ PEG-Catalase","x":-7,"y":472},{"p":"D","s":"+ PEG-Catalase","x":-6.75,"y":568},{"p":"D","s":"+ PEG-Catalase","x":-6.5,"y":642},{"p":"D","s":"+ PEG-Catalase","x":-6.25,"y":692},{"p":"D","s":"+ PEG-Catalase","x":-6,"y":724},{"p":"D","s":"+ PEG-Catalase","x":-5.75,"y":744},{"p":"D","s":"+ PEG-Catalase","x":-5.5,"y":755},{"p":"D","s":"+ PEG-Catalase","x":-5.25,"y":762},{"p":"D","s":"+ PEG-Catalase","x":-5,"y":765},
{"p":"D","s":"+ CNP + PEG-Catalase","x":-10,"y":1},{"p":"D","s":"+ CNP + PEG-Catalase","x":-9.5,"y":3},{"p":"D","s":"+ CNP + PEG-Catalase","x":-9,"y":9},{"p":"D","s":"+ CNP + PEG-Catalase","x":-8.5,"y":29},{"p":"D","s":"+ CNP + PEG-Catalase","x":-8,"y":86},{"p":"D","s":"+ CNP + PEG-Catalase","x":-7.75,"y":143},{"p":"D","s":"+ CNP + PEG-Catalase","x":-7.5,"y":228},{"p":"D","s":"+ CNP + PEG-Catalase","x":-7.25,"y":342},{"p":"D","s":"+ CNP + PEG-Catalase","x":-7,"y":475},{"p":"D","s":"+ CNP + PEG-Catalase","x":-6.75,"y":608},{"p":"D","s":"+ CNP + PEG-Catalase","x":-6.5,"y":722},{"p":"D","s":"+ CNP + PEG-Catalase","x":-6.25,"y":807},{"p":"D","s":"+ CNP + PEG-Catalase","x":-6,"y":864},{"p":"D","s":"+ CNP + PEG-Catalase","x":-5.75,"y":900},{"p":"D","s":"+ CNP + PEG-Catalase","x":-5.5,"y":921},{"p":"D","s":"+ CNP + PEG-Catalase","x":-5.25,"y":933},{"p":"D","s":"+ CNP + PEG-Catalase","x":-5,"y":941}
],
"notes": [
{"p":"A","x":-4.76,"y":1725,"t":"a,b"},{"p":"A","x":-4.54,"y":500,"t":"*"},{"p":"A","x":-9.05,"y":1015,"t":"*,a,b"},
{"p":"B","x":-4.67,"y":1343,"t":"c"},{"p":"B","x":-4.67,"y":963,"t":"#"},{"p":"B","x":-4.67,"y":295,"t":"#"},{"p":"B","x":-8.62,"y":982,"t":"c"},
{"p":"C","x":-4.64,"y":1254,"t":"a"},{"p":"C","x":-4.59,"y":500,"t":"*"},{"p":"C","x":-8.87,"y":714,"t":"*, a"},
{"p":"D","x":-4.63,"y":959,"t":"c"},{"p":"D","x":-4.63,"y":299,"t":"#"},{"p":"D","x":-8.35,"y":610,"t":"c"}
],
"bars": [
{"p":"A","x":-9.07,"x2":-8.31,"y":827},{"p":"B","x":-8.81,"x2":-8.27,"y":765},{"p":"C","x":-9.02,"x2":-8.06,"y":527},{"p":"D","x":-8.69,"x2":-7.9,"y":446}
],
"cap": [
{"line":1,"side":"L","part":"head","t":"FIGURE 6 | Cumulative concentration-effect curves to phenylephrine"},
{"line":1,"side":"M","part":"head","t":"(PE) in the"},
{"line":1,"side":"R","part":"head","t":"absence (CO) or presence of CNP (10 nmol.L⁻¹); O₂⁻ scavenger Tiron"},
{"line":2,"side":"L","part":"head","t":"(100 μmol.L⁻¹) or CNP + Tiron in Sham (A) (n = 6) or CLP rat aorta (B)"},
{"line":2,"side":"M","part":"head","t":"(n = 13)."},
{"line":2,"side":"R","part":"body","t":"Cumulative concentration-effect curves to PE in the absence (CO) or presence"},
{"line":3,"side":"L","part":"body","t":"of CNP (10 nmol.L⁻¹); intracellular H₂O₂ breakdown agent PEG-catalase"},
{"line":3,"side":"M","part":"body","t":"(250 U.mL⁻¹)"},
{"line":3,"side":"R","part":"body","t":"or CNP + PEG-catalase in Sham (C) (n = 5) or CLP rat aorta (D) (n = 11)."},
{"line":4,"side":"L","part":"body","t":"Data are presented as mean ± S.E.M. *different from Sham CO; #different"},
{"line":4,"side":"M","part":"body","t":"from CLP CO;"},
{"line":4,"side":"R","part":"body","t":"ᵃdifferent from Sham CNP; ᵇdifferent from Sham Tiron; ᶜdifferent from CLP"},
{"line":5,"side":"L","part":"body","t":"CNP. Each experimental n represents samples isolated from different animals. Two-way Anova,"},
{"line":5,"side":"R","part":"body","t":"Bonferroni correction to evaluate interaction factor; One-way Anova,"},
{"line":6,"side":"L","part":"body","t":"pos-hoc Newman-Keuls to three or more comparisons (P < 0.05)."}
]
},
"vconcat": [
{
"hconcat": [
{"width":111,"height":261,"data":{"values":[{}]},"mark":{"type":"point","opacity":0}},
{
"width":258,"height":177,
"layer":[
{"data":{"name":"crv"},"transform":[{"filter":"datum.p==='A'"}],"mark":{"type":"line","color":"black","strokeWidth":1.4,"interpolate":"monotone"},"encoding":{"x":{"field":"x","type":"quantitative","scale":{"domain":[-11,-4],"nice":false,"zero":false},"axis":{"tickCount":7,"labelOverlap":false,"labelExpr":"''+datum.value","title":"PE Log [mol.L⁻¹]","titleX":119,"titlePadding":15}},"y":{"field":"y","type":"quantitative","scale":{"domain":[-100,3122],"nice":false,"zero":false},"axis":{"tickCount":6,"labelOverlap":false,"format":"d","domain":false,"title":"Tension (g.g⁻¹)"}},"detail":{"field":"s"}}},
{"data":{"values":[{}]},"mark":{"type":"rule","color":"#444","strokeWidth":1.3},"encoding":{"x":{"datum":-11},"y":{"datum":-100},"y2":{"datum":3000}}},
{"data":{"name":"pts"},"transform":[{"filter":"datum.p==='A'"}],"mark":{"type":"rule","color":"black","strokeWidth":1},"encoding":{"x":{"field":"x","type":"quantitative"},"y":{"field":"y","type":"quantitative"},"y2":{"field":"hi"}}},
{"data":{"name":"pts"},"transform":[{"filter":"datum.p==='A'"}],"mark":{"type":"tick","orient":"horizontal","color":"black","size":7,"thickness":1},"encoding":{"x":{"field":"x","type":"quantitative"},"y":{"field":"hi","type":"quantitative","title":"Tension (g.g⁻¹)"}}},
{"data":{"name":"pts"},"transform":[{"filter":"datum.p==='A'"}],"mark":{"type":"point","stroke":"black","strokeWidth":1,"opacity":1,"fillOpacity":1,"size":60},"encoding":{"x":{"field":"x","type":"quantitative"},"y":{"field":"y","type":"quantitative"},
"shape":{"field":"s","type":"nominal","scale":{"domain":["CO","+ CNP","+ Tiron","+ CNP + Tiron"],"range":["square","square","triangle-up","triangle-up"]},"legend":{"title":null,"orient":"none","legendX":280,"legendY":12,"labelFont":"Liberation Sans","labelFontSize":11.5,"labelColor":"#222","symbolSize":40,"rowPadding":6.5,"labelOffset":13,"padding":0,"encode":{"symbols":{"update":{"stroke":{"value":"black"},"strokeWidth":{"value":1}}}}}},
"fill":{"field":"s","type":"nominal","scale":{"domain":["CO","+ CNP","+ Tiron","+ CNP + Tiron"],"range":["black","white","black","white"]},"legend":{"title":null,"orient":"none","legendX":280,"legendY":12,"labelFont":"Liberation Sans","labelFontSize":11.5,"labelColor":"#222","symbolSize":40,"rowPadding":6.5,"labelOffset":13,"padding":0,"encode":{"symbols":{"update":{"stroke":{"value":"black"},"strokeWidth":{"value":1}}}}}}}},
{"data":{"name":"bars"},"transform":[{"filter":"datum.p==='A'"}],"mark":{"type":"rule","color":"black","strokeWidth":1.2},"encoding":{"x":{"field":"x","type":"quantitative"},"x2":{"field":"x2"},"y":{"field":"y","type":"quantitative"}}},
{"data":{"name":"notes"},"transform":[{"filter":"datum.p==='A'"}],"mark":{"type":"text","align":"left","baseline":"middle","font":"Liberation Sans","fontSize":13,"color":"#222"},"encoding":{"x":{"field":"x","type":"quantitative"},"y":{"field":"y","type":"quantitative"},"text":{"field":"t"}}},
{"data":{"values":[{}]},"mark":{"type":"text","align":"left","baseline":"alphabetic","font":"Liberation Sans","fontSize":19,"fontWeight":"bold","color":"black"},"encoding":{"x":{"datum":-13.79},"y":{"datum":3450},"text":{"value":"A"}}},
{"data":{"values":[{}]},"mark":{"type":"text","align":"center","baseline":"alphabetic","font":"Liberation Sans","fontSize":14,"fontWeight":"bold","color":"#111"},"encoding":{"x":{"datum":-8.05},"y":{"datum":3487},"text":{"value":"Sham E+"}}}
]
},
{
"width":257,"height":171,
"layer":[
{"data":{"name":"crv"},"transform":[{"filter":"datum.p==='B'"}],"mark":{"type":"line","color":"black","strokeWidth":1.4,"interpolate":"monotone"},"encoding":{"x":{"field":"x","type":"quantitative","scale":{"domain":[-11,-4],"nice":false,"zero":false},"axis":{"tickCount":7,"labelOverlap":false,"labelExpr":"''+datum.value","title":"PE Log [mol.L⁻¹]","titlePadding":19}},"y":{"field":"y","type":"quantitative","scale":{"domain":[-100,3000],"nice":false,"zero":false},"axis":{"tickCount":6,"labelOverlap":false,"format":"d","title":"Tension (g.g⁻¹)"}},"detail":{"field":"s"}}},
{"data":{"name":"pts"},"transform":[{"filter":"datum.p==='B'"}],"mark":{"type":"rule","color":"black","strokeWidth":1},"encoding":{"x":{"field":"x","type":"quantitative"},"y":{"field":"y","type":"quantitative"},"y2":{"field":"hi"}}},
{"data":{"name":"pts"},"transform":[{"filter":"datum.p==='B'"}],"mark":{"type":"tick","orient":"horizontal","color":"black","size":7,"thickness":1},"encoding":{"x":{"field":"x","type":"quantitative"},"y":{"field":"hi","type":"quantitative","title":"Tension (g.g⁻¹)"}}},
{"data":{"name":"pts"},"transform":[{"filter":"datum.p==='B'"}],"mark":{"type":"point","stroke":"black","strokeWidth":1,"opacity":1,"fillOpacity":1,"size":55},"encoding":{"x":{"field":"x","type":"quantitative"},"y":{"field":"y","type":"quantitative"},
"shape":{"field":"s","type":"nominal","scale":{"domain":["CO","+ CNP","+ Tiron","+ CNP + Tiron"],"range":["circle","circle","triangle-up","triangle-up"]},"legend":{"title":null,"orient":"none","legendX":280,"legendY":14,"labelFont":"Liberation Sans","labelFontSize":11.5,"labelColor":"#222","symbolSize":40,"rowPadding":6.5,"labelOffset":11,"padding":0,"encode":{"symbols":{"update":{"stroke":{"value":"black"},"strokeWidth":{"value":1}}}}}},
"fill":{"field":"s","type":"nominal","scale":{"domain":["CO","+ CNP","+ Tiron","+ CNP + Tiron"],"range":["black","white","black","white"]},"legend":{"title":null,"orient":"none","legendX":280,"legendY":14,"labelFont":"Liberation Sans","labelFontSize":11.5,"labelColor":"#222","symbolSize":40,"rowPadding":6.5,"labelOffset":11,"padding":0,"encode":{"symbols":{"update":{"stroke":{"value":"black"},"strokeWidth":{"value":1}}}}}}}},
{"data":{"name":"bars"},"transform":[{"filter":"datum.p==='B'"}],"mark":{"type":"rule","color":"black","strokeWidth":1.2},"encoding":{"x":{"field":"x","type":"quantitative"},"x2":{"field":"x2"},"y":{"field":"y","type":"quantitative"}}},
{"data":{"name":"notes"},"transform":[{"filter":"datum.p==='B'"}],"mark":{"type":"text","align":"left","baseline":"middle","font":"Liberation Sans","fontSize":13,"color":"#222"},"encoding":{"x":{"field":"x","type":"quantitative"},"y":{"field":"y","type":"quantitative"},"text":{"field":"t"}}},
{"data":{"values":[{}]},"mark":{"type":"text","align":"left","baseline":"alphabetic","font":"Liberation Sans","fontSize":19,"fontWeight":"bold","color":"black"},"encoding":{"x":{"datum":-12.59},"y":{"datum":3325},"text":{"value":"B"}}},
{"data":{"values":[{}]},"mark":{"type":"text","align":"center","baseline":"alphabetic","font":"Liberation Sans","fontSize":14,"fontWeight":"bold","color":"#111"},"encoding":{"x":{"datum":-7.54},"y":{"datum":3390},"text":{"value":"CLP E+"}}}
]
}
],
"spacing": 32,
"resolve": {"scale": {"shape":"independent","fill":"independent"}, "legend": {"shape":"independent","fill":"independent"}}
},
{
"hconcat": [
{"width":110,"height":218,"data":{"values":[{}]},"mark":{"type":"point","opacity":0}},
{
"width":250,"height":166,
"layer":[
{"data":{"name":"crv"},"transform":[{"filter":"datum.p==='C'"}],"mark":{"type":"line","color":"black","strokeWidth":1.4,"interpolate":"monotone"},"encoding":{"x":{"field":"x","type":"quantitative","scale":{"domain":[-11,-4],"nice":false,"zero":false},"axis":{"tickCount":7,"labelOverlap":false,"labelExpr":"''+datum.value","title":"PE Log [mol.L⁻¹]","titlePadding":22}},"y":{"field":"y","type":"quantitative","scale":{"domain":[-100,3000],"nice":false,"zero":false},"axis":{"tickCount":6,"labelOverlap":false,"format":"d","title":"Tension (g.g⁻¹)"}},"detail":{"field":"s"}}},
{"data":{"name":"pts"},"transform":[{"filter":"datum.p==='C'"}],"mark":{"type":"rule","color":"black","strokeWidth":1},"encoding":{"x":{"field":"x","type":"quantitative"},"y":{"field":"y","type":"quantitative"},"y2":{"field":"hi"}}},
{"data":{"name":"pts"},"transform":[{"filter":"datum.p==='C'"}],"mark":{"type":"tick","orient":"horizontal","color":"black","size":7,"thickness":1},"encoding":{"x":{"field":"x","type":"quantitative"},"y":{"field":"hi","type":"quantitative","title":"Tension (g.g⁻¹)"}}},
{"data":{"name":"pts"},"transform":[{"filter":"datum.p==='C'"}],"mark":{"type":"point","stroke":"black","strokeWidth":1,"opacity":1,"fillOpacity":1,"size":60},"encoding":{"x":{"field":"x","type":"quantitative"},"y":{"field":"y","type":"quantitative"},
"shape":{"field":"s","type":"nominal","scale":{"domain":["CO","+ CNP","+ PEG-Catalase","+ CNP + PEG-Catalase"],"range":["square","triangle-up","triangle-up","triangle-down"]},"legend":{"title":null,"orient":"none","legendX":272,"legendY":3,"labelFont":"Liberation Sans","labelFontSize":11.5,"labelColor":"#222","symbolSize":40,"rowPadding":6.5,"labelOffset":12,"padding":0,"encode":{"symbols":{"update":{"stroke":{"value":"black"},"strokeWidth":{"value":1}}}}}},
"fill":{"field":"s","type":"nominal","scale":{"domain":["CO","+ CNP","+ PEG-Catalase","+ CNP + PEG-Catalase"],"range":["black","black","white","white"]},"legend":{"title":null,"orient":"none","legendX":272,"legendY":3,"labelFont":"Liberation Sans","labelFontSize":11.5,"labelColor":"#222","symbolSize":40,"rowPadding":6.5,"labelOffset":12,"padding":0,"encode":{"symbols":{"update":{"stroke":{"value":"black"},"strokeWidth":{"value":1}}}}}}}},
{"data":{"name":"bars"},"transform":[{"filter":"datum.p==='C'"}],"mark":{"type":"rule","color":"black","strokeWidth":1.2},"encoding":{"x":{"field":"x","type":"quantitative"},"x2":{"field":"x2"},"y":{"field":"y","type":"quantitative"}}},
{"data":{"name":"notes"},"transform":[{"filter":"datum.p==='C'"}],"mark":{"type":"text","align":"left","baseline":"middle","font":"Liberation Sans","fontSize":13,"color":"#222"},"encoding":{"x":{"field":"x","type":"quantitative"},"y":{"field":"y","type":"quantitative"},"text":{"field":"t"}}},
{"data":{"values":[{}]},"mark":{"type":"text","align":"left","baseline":"alphabetic","font":"Liberation Sans","fontSize":19,"fontWeight":"bold","color":"black"},"encoding":{"x":{"datum":-12.64},"y":{"datum":3458},"text":{"value":"C"}}},
{"data":{"values":[{}]},"mark":{"type":"text","align":"center","baseline":"alphabetic","font":"Liberation Sans","fontSize":14,"fontWeight":"bold","color":"#111"},"encoding":{"x":{"datum":-7.62},"y":{"datum":3415},"text":{"value":"Sham E+"}}}
]
},
{
"width":254,"height":169,
"layer":[
{"data":{"name":"crv"},"transform":[{"filter":"datum.p==='D'"}],"mark":{"type":"line","color":"black","strokeWidth":1.4,"interpolate":"monotone"},"encoding":{"x":{"field":"x","type":"quantitative","scale":{"domain":[-11,-4],"nice":false,"zero":false},"axis":{"tickCount":7,"labelOverlap":false,"labelExpr":"''+datum.value","title":"PE Log [mol.L⁻¹]","titlePadding":20}},"y":{"field":"y","type":"quantitative","scale":{"domain":[-100,3000],"nice":false,"zero":false},"axis":{"tickCount":6,"labelOverlap":false,"format":"d","title":"Tension (g.g⁻¹)"}},"detail":{"field":"s"}}},
{"data":{"name":"pts"},"transform":[{"filter":"datum.p==='D'"}],"mark":{"type":"rule","color":"black","strokeWidth":1},"encoding":{"x":{"field":"x","type":"quantitative"},"y":{"field":"y","type":"quantitative"},"y2":{"field":"hi"}}},
{"data":{"name":"pts"},"transform":[{"filter":"datum.p==='D'"}],"mark":{"type":"tick","orient":"horizontal","color":"black","size":7,"thickness":1},"encoding":{"x":{"field":"x","type":"quantitative"},"y":{"field":"hi","type":"quantitative","title":"Tension (g.g⁻¹)"}}},
{"data":{"name":"pts"},"transform":[{"filter":"datum.p==='D'"}],"mark":{"type":"point","stroke":"black","strokeWidth":1,"opacity":1,"fillOpacity":1,"size":60},"encoding":{"x":{"field":"x","type":"quantitative"},"y":{"field":"y","type":"quantitative"},
"shape":{"field":"s","type":"nominal","scale":{"domain":["CO","+ CNP","+ PEG-Catalase","+ CNP + PEG-Catalase"],"range":["square","triangle-down","triangle-up","triangle-down"]},"legend":{"title":null,"orient":"none","legendX":269,"legendY":2.5,"labelFont":"Liberation Sans","labelFontSize":11.5,"labelColor":"#222","symbolSize":40,"rowPadding":6.5,"labelOffset":11,"padding":0,"encode":{"symbols":{"update":{"stroke":{"value":"black"},"strokeWidth":{"value":1}}}}}},
"fill":{"field":"s","type":"nominal","scale":{"domain":["CO","+ CNP","+ PEG-Catalase","+ CNP + PEG-Catalase"],"range":["black","black","white","white"]},"legend":{"title":null,"orient":"none","legendX":269,"legendY":2.5,"labelFont":"Liberation Sans","labelFontSize":11.5,"labelColor":"#222","symbolSize":40,"rowPadding":6.5,"labelOffset":11,"padding":0,"encode":{"symbols":{"update":{"stroke":{"value":"black"},"strokeWidth":{"value":1}}}}}}}},
{"data":{"name":"bars"},"transform":[{"filter":"datum.p==='D'"}],"mark":{"type":"rule","color":"black","strokeWidth":1.2},"encoding":{"x":{"field":"x","type":"quantitative"},"x2":{"field":"x2"},"y":{"field":"y","type":"quantitative"}}},
{"data":{"name":"notes"},"transform":[{"filter":"datum.p==='D'"}],"mark":{"type":"text","align":"left","baseline":"middle","font":"Liberation Sans","fontSize":13,"color":"#222"},"encoding":{"x":{"field":"x","type":"quantitative"},"y":{"field":"y","type":"quantitative"},"text":{"field":"t"}}},
{"data":{"values":[{}]},"mark":{"type":"text","align":"left","baseline":"alphabetic","font":"Liberation Sans","fontSize":19,"fontWeight":"bold","color":"black"},"encoding":{"x":{"datum":-12.98},"y":{"datum":3398},"text":{"value":"D"}}},
{"data":{"values":[{}]},"mark":{"type":"text","align":"center","baseline":"alphabetic","font":"Liberation Sans","fontSize":14,"fontWeight":"bold","color":"#111"},"encoding":{"x":{"datum":-7.55},"y":{"datum":3380},"text":{"value":"CLP E+"}}}
]
}
],
"spacing": 35,
"resolve": {"scale": {"shape":"independent","fill":"independent"}, "legend": {"shape":"independent","fill":"independent"}}
},
{
"width":1316,"height":124,
"data":{"name":"cap"},
"encoding":{"x":{"field":"side","type":"nominal","scale":{"type":"point","domain":["L","M","R"],"padding":0},"axis":null},"y":{"field":"line","type":"ordinal","scale":{"type":"point","domain":[1,2,3,4,5,6],"padding":0},"axis":null},"text":{"field":"t"}},
"layer":[
{"transform":[{"filter":"datum.part==='head' && datum.side==='L'"}],"mark":{"type":"text","align":"left","baseline":"alphabetic","font":"Liberation Sans","fontSize":17.8,"fontWeight":"bold","color":"#231f20"}},
{"transform":[{"filter":"datum.part==='head' && datum.side==='M'"}],"mark":{"type":"text","align":"center","baseline":"alphabetic","font":"Liberation Sans","fontSize":17.8,"fontWeight":"bold","color":"#231f20"}},
{"transform":[{"filter":"datum.part==='head' && datum.side==='R'"}],"mark":{"type":"text","align":"right","baseline":"alphabetic","font":"Liberation Sans","fontSize":17.8,"fontWeight":"bold","color":"#231f20"}},
{"transform":[{"filter":"datum.part==='body' && datum.side==='L'"}],"mark":{"type":"text","align":"left","baseline":"alphabetic","font":"Liberation Sans","fontSize":17.8,"color":"#231f20"}},
{"transform":[{"filter":"datum.part==='body' && datum.side==='M'"}],"mark":{"type":"text","align":"center","baseline":"alphabetic","font":"Liberation Sans","fontSize":17.8,"color":"#231f20"}},
{"transform":[{"filter":"datum.part==='body' && datum.side==='R'"}],"mark":{"type":"text","align":"right","baseline":"alphabetic","font":"Liberation Sans","fontSize":17.8,"color":"#231f20"}}
]
}
],
"resolve": {"scale": {"shape":"independent","fill":"independent"}, "legend": {"shape":"independent","fill":"independent"}},
"config": {
"font": "Liberation Sans",
"view": {"stroke": null},
"axis": {"labelFont":"Liberation Sans","labelFontSize":10.5,"labelColor":"#333","titleFont":"Liberation Sans","titleFontSize":12.5,"titleFontWeight":"bold","titleColor":"#222","domainColor":"#444","tickColor":"#444","domainWidth":1.3,"tickWidth":1.2,"tickSize":4,"grid":false,"labelPadding":2},
"axisX": {"titlePadding": 14},
"axisY": {"titlePadding": 8}
}
}
